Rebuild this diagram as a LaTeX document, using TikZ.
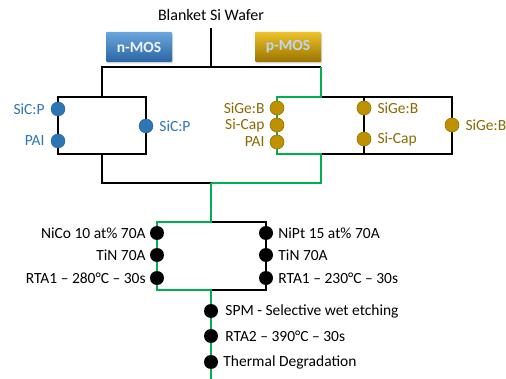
\documentclass[tikz,border=0pt]{standalone}
\usepackage{fontspec}
\setmainfont{Carlito}
\usetikzlibrary{shadows}
\definecolor{nblue}{HTML}{2E75B6}
\definecolor{nbluetop}{HTML}{6AA6DC}
\definecolor{nbluebot}{HTML}{2A65A3}
\definecolor{gold}{HTML}{BF9000}
\definecolor{goldtxt}{HTML}{8A6A00}
\definecolor{goldtop}{HTML}{EDC22A}
\definecolor{goldbot}{HTML}{9A7300}
\definecolor{pmostxt}{HTML}{BDD7EE}
\definecolor{grn}{HTML}{00B050}
\tikzset{
  lbl/.style={font=\fontsize{15.5}{18}\selectfont, inner sep=1pt},
  blk/.style={draw=black, line width=1.5pt},
  gline/.style={draw=grn, line width=1.5pt},
  ndot/.style={circle, fill=nblue, draw=nblue!80!black, line width=0.4pt, minimum size=14pt, inner sep=0pt},
  pdot/.style={circle, fill=gold, draw=goldbot, line width=0.6pt, minimum size=14pt, inner sep=0pt},
  kdot/.style={circle, fill=black, minimum size=14pt, inner sep=0pt},
  mosbox/.style={minimum width=66pt, minimum height=30pt, inner sep=0pt, rounded corners=1pt,
     font=\fontsize{15.5}{18}\selectfont\bfseries, drop shadow={opacity=0.35, shadow xshift=1pt, shadow yshift=-1.5pt}},
}
\begin{document}
\begin{tikzpicture}[x=1pt,y=-1pt]
\useasboundingbox (0,0) rectangle (506,379);
% title and type boxes
\node[lbl, font=\fontsize{16}{19}\selectfont] (wafer) at (211,15) {Blanket Si Wafer};
\node[mosbox, top color=nbluetop, bottom color=nbluebot, text=white!92!nblue] (nmos) at (139,47) {n-MOS};
\node[mosbox, top color=goldtop, bottom color=goldbot, text=pmostxt] (pmos) at (288,47) {p-MOS};
% corner coordinates
\coordinate (w0) at (211,28);
\coordinate (s0) at (211,67);
\coordinate (sl) at (102,67);
\coordinate (sr) at (321,67);
\coordinate (nt) at (102,97);
\coordinate (ntl) at (58,97);
\coordinate (ntr) at (146,97);
\coordinate (nbl) at (58,154);
\coordinate (nbr) at (146,154);
\coordinate (nb) at (102,154);
\coordinate (nj) at (102,183);
\coordinate (mj) at (211,183);
\coordinate (pj) at (321,183);
\coordinate (pt) at (321,97);
\coordinate (pb) at (321,154);
\coordinate (ptl) at (277,97);
\coordinate (pbl) at (277,154);
\coordinate (ptm) at (364,97);
\coordinate (pbm) at (364,154);
\coordinate (ptr) at (452,97);
\coordinate (pbr) at (452,154);
\coordinate (mt) at (211,222);
\coordinate (mtl) at (157,222);
\coordinate (mtr) at (266,222);
\coordinate (mbl) at (157,290);
\coordinate (mbr) at (266,290);
\coordinate (mb) at (211,290);
\coordinate (end) at (211,379);
% connectors
\draw[blk] (w0) -- (s0);
\draw[blk] (sr) -- (sl) -- (nt);
\draw[blk] (nt) -- (ntl) -- (nbl) -- (nbr) -- (ntr) -- (nt);
\draw[blk] (nb) -- (nj) -- (mj);
\draw[blk] (pt) -- (ptr) -- (pbr) -- (pb);
\draw[blk] (ptm) -- (pbm);
\draw[gline] (sr) -- (pt) -- (ptl) -- (pbl) -- (pb) -- (pj) -- (mj);
\draw[blk] (mt) -- (mtr) -- (mbr) -- (mb);
\draw[gline] (mj) -- (mt) -- (mtl) -- (mbl) -- (mb) -- (end);
% n-MOS dots
\node[ndot, label={[lbl, text=nblue, label distance=5pt]left:SiC:P}] (n1) at (58,109) {};
\node[ndot, label={[lbl, text=nblue, label distance=5pt]left:PAI}] (n2) at (58,141) {};
\node[ndot, label={[lbl, text=nblue, label distance=5pt]right:SiC:P}] (n3) at (146,126) {};
% p-MOS dots
\node[pdot, label={[lbl, text=goldtxt, label distance=4pt]left:SiGe:B}] (p1) at (277,108) {};
\node[pdot, label={[lbl, text=goldtxt, label distance=4pt]left:Si-Cap}] (p2) at (277,125) {};
\node[pdot, label={[lbl, text=goldtxt, label distance=4pt]left:PAI}] (p3) at (277,142) {};
\node[pdot, label={[lbl, text=goldtxt, label distance=5pt]right:SiGe:B}] (p4) at (364,108) {};
\node[pdot, label={[lbl, text=goldtxt, label distance=5pt]right:Si-Cap}] (p5) at (364,139) {};
\node[pdot, label={[lbl, text=goldtxt, label distance=5pt]right:SiGe:B}] (p6) at (452,125) {};
% silicide dots
\node[kdot, label={[lbl, label distance=3pt]left:NiCo 10 at\% 70A}] (m1) at (157,233) {};
\node[kdot, label={[lbl, label distance=3pt]left:TiN 70A}] (m2) at (157,255) {};
\node[kdot, label={[lbl, label distance=3pt]left:RTA1 -- 280°C -- 30s}] (m3) at (157,278) {};
\node[kdot, label={[lbl, label distance=4pt]right:NiPt 15 at\% 70A}] (m4) at (266,233) {};
\node[kdot, label={[lbl, label distance=4pt]right:TiN 70A}] (m5) at (266,255) {};
\node[kdot, label={[lbl, label distance=4pt]right:RTA1 -- 230°C -- 30s}] (m6) at (266,278) {};
% final steps
\node[kdot, label={[lbl, label distance=6pt]right:SPM - Selective wet etching}] (f1) at (211,311) {};
\node[kdot, label={[lbl, label distance=6pt]right:RTA2 -- 390°C -- 30s}] (f2) at (211,336) {};
\node[kdot, label={[lbl, label distance=4pt]right:Thermal Degradation}] (f3) at (211,362) {};
\end{tikzpicture}
\end{document}
